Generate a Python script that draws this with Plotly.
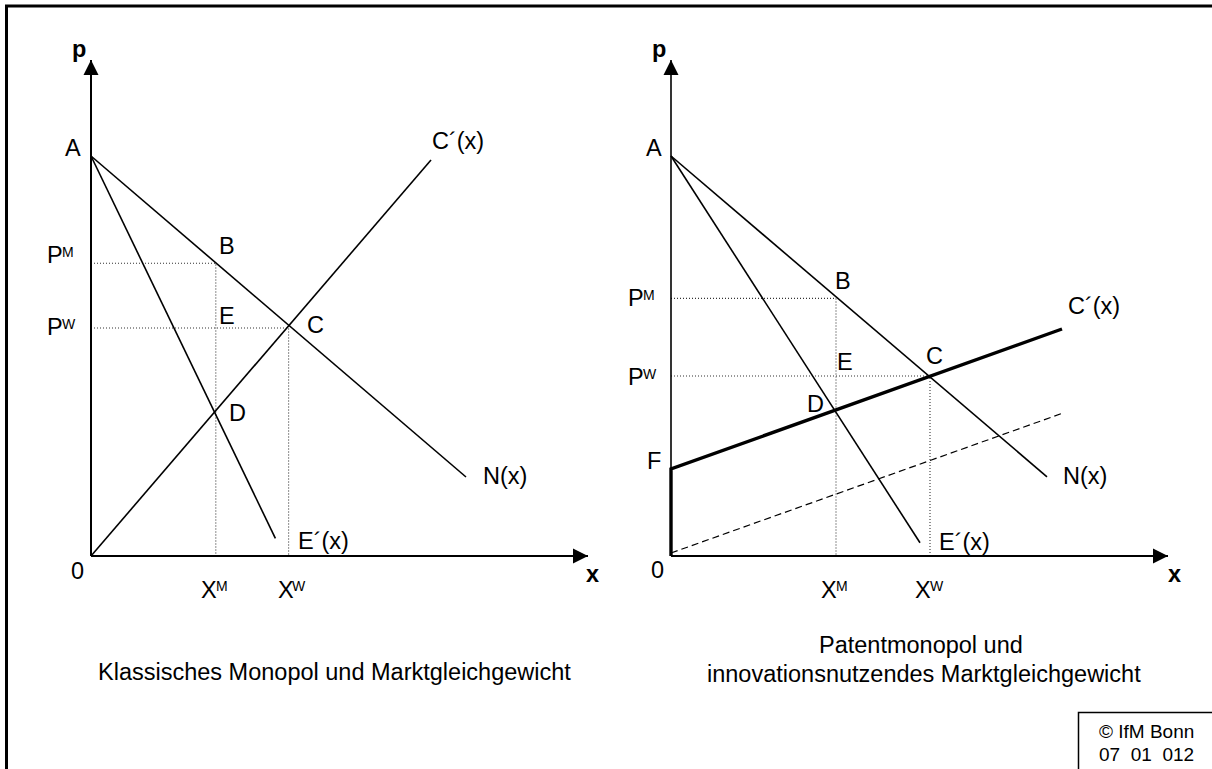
import plotly.graph_objects as go

# ---- values (price p vs quantity x, arbitrary units) ----
# left panel: classical monopoly vs. market equilibrium
left_demand_x = [0, 93.75]
left_demand_p = [100, 19.75]
left_mr_x = [0, 46.1]
left_mr_p = [100, 4.4]
left_mc_x = [0, 85]
left_mc_p = [0, 99]
left_monopoly = (31.2, 73.2)   # (X^M, P^M) -> point B
left_welfare = (49.4, 57.0)    # (X^W, P^W) -> point C

# right panel: patent monopoly, fixed cost F shifts the cost curve up
right_demand_x = [0, 94]
right_demand_p = [100, 19.8]
right_mr_x = [0, 62.25]
right_mr_p = [100, 3.3]
right_mc_x = [0, 0, 97.75]
right_mc_p = [0, 21.75, 56.75]
right_base_x = [0, 97.9]
right_base_p = [0.75, 35.7]
right_monopoly = (41.25, 64.4)
right_welfare = (64.75, 45.0)

axis_tip_x = 124.25
axis_tip_p = 124.0

# ---- page geometry (pixels) ----
W, H = 1212, 769
UNIT = 4.0                      # pixels per unit
LEFT_ORIGIN = (91, 556)
RIGHT_ORIGIN = (671, 556)

FONT = "Liberation Sans, Arial, sans-serif"
FS = 23.5
SUP = 14
BLACK = "#000000"

fig = go.Figure()


def xrange_for(origin_px):
    return [-origin_px / UNIT, (W - origin_px) / UNIT]


def line(xs, ys, xa, width=1.6, dash=None, color=BLACK):
    fig.add_trace(go.Scatter(
        x=xs, y=ys, xaxis=xa, yaxis="y", mode="lines",
        line=dict(color=color, width=width, dash=dash),
        hoverinfo="skip", showlegend=False))


def label(text, x, y, xa, size=FS, bold=False, xanchor="center"):
    fig.add_annotation(
        x=x, y=y, xref=xa, yref="y", text=text, showarrow=False,
        xanchor=xanchor, yanchor="middle",
        font=dict(family=FONT, size=size, color=BLACK,
                  weight="bold" if bold else "normal"))


def sup_label(base, s, xb, yb, xs, ys, xa):
    label(base, xb, yb, xa)
    label(s, xs - 0.4, ys, xa, size=SUP)


def axes(xa, y_width=2.0):
    # quantity axis and price axis with filled arrow heads
    line([0, axis_tip_x], [0, 0], xa, width=2.2)
    line([0, 0], [0, axis_tip_p], xa, width=y_width)
    fig.add_trace(go.Scatter(
        x=[axis_tip_x, 0], y=[0, axis_tip_p], xaxis=xa, yaxis="y",
        mode="markers",
        marker=dict(symbol=["arrow-right", "arrow-up"], size=15,
                    color=BLACK, line=dict(width=0)),
        hoverinfo="skip", showlegend=False))


def guides(pt, xa):
    gx, gp = pt
    line([0, gx, gx], [gp, gp, 0], xa, width=1.1, dash="1px,2px", color="#333333")


# ---------------- left panel ----------------
guides(left_monopoly, "x")
guides(left_welfare, "x")
axes("x")
line(left_demand_x, left_demand_p, "x")
line(left_mr_x, left_mr_p, "x")
line(left_mc_x, left_mc_p, "x")

label("p", -3.0, 126.7, "x", bold=True)
label("A", -4.4, 102.0, "x")
sup_label("P", "M", -9.0, 75.25, -5.25, 76.1, "x")
sup_label("P", "W", -9.0, 57.25, -5.1, 58.1, "x")
label("B", 33.9, 77.5, "x")
label("E", 34.1, 60.0, "x")
label("C", 56.0, 57.8, "x")
label("D", 36.5, 35.8, "x")
label("C´(x)", 91.8, 103.8, "x")
label("N(x)", 103.4, 20.0, "x")
label("E´(x)", 58.0, 3.8, "x")
label("0", -3.4, -3.8, "x")
sup_label("X", "M", 29.5, -8.6, 33.1, -7.5, "x")
sup_label("X", "W", 48.75, -8.6, 52.5, -7.5, "x")
label("x", 125.4, -4.5, "x", bold=True)
label("Klassisches Monopol und Marktgleichgewicht", 60.8, -29.1, "x")

# ---------------- right panel ----------------
guides(right_monopoly, "x2")
guides(right_welfare, "x2")
axes("x2", y_width=1.6)
line(right_base_x, right_base_p, "x2", width=1.2, dash="7px,4px")
line(right_demand_x, right_demand_p, "x2")
line(right_mr_x, right_mr_p, "x2")
line(right_mc_x, right_mc_p, "x2", width=3.4)

label("p", -2.9, 126.7, "x2", bold=True)
label("A", -4.25, 102.0, "x2")
sup_label("P", "M", -8.75, 64.4, -5.0, 65.25, "x2")
sup_label("P", "W", -8.75, 44.75, -4.85, 45.6, "x2")
label("B", 43.0, 68.75, "x2")
label("C´(x)", 105.75, 62.4, "x2")
label("E", 43.5, 48.6, "x2")
label("C", 65.9, 50.1, "x2")
label("D", 36.0, 38.1, "x2")
label("F", -4.25, 23.75, "x2")
label("N(x)", 103.5, 20.1, "x2")
label("E´(x)", 73.4, 3.6, "x2")
label("0", -3.4, -3.5, "x2")
sup_label("X", "M", 39.5, -8.6, 43.1, -7.5, "x2")
sup_label("X", "W", 63.1, -8.6, 66.9, -7.5, "x2")
label("x", 125.75, -4.5, "x2", bold=True)
label("Patentmonopol und", 62.4, -22.25, "x2")
label("innovationsnutzendes Marktgleichgewicht", 63.25, -29.5, "x2")

# ---------------- frame and source box ----------------
def px(xp):
    return xp / W


def py(yp):
    return 1 - yp / H


fig.add_shape(type="line", xref="paper", yref="paper",
              x0=px(6.5), x1=px(6.5), y0=py(6), y1=py(H + 5),
              line=dict(color=BLACK, width=3))
fig.add_shape(type="line", xref="paper", yref="paper",
              x0=px(5), x1=px(W + 5), y0=py(6), y1=py(6),
              line=dict(color=BLACK, width=3))
fig.add_shape(type="rect", xref="paper", yref="paper",
              x0=px(1078.5), x1=px(W + 10), y0=py(H + 10), y1=py(712.5),
              line=dict(color=BLACK, width=1.5))
for txt, yy in [("© IfM Bonn", 731.5), ("07  01  012", 754)]:
    fig.add_annotation(x=px(1096.5), y=py(yy), xref="paper", yref="paper",
                       text=txt, showarrow=False, xanchor="left", yanchor="middle",
                       font=dict(family=FONT, size=19, color=BLACK))

hidden = dict(visible=False, showgrid=False, zeroline=False, fixedrange=True)
fig.update_layout(
    width=W, height=H, autosize=False,
    margin=dict(l=0, r=0, t=0, b=0, pad=0),
    paper_bgcolor="white", plot_bgcolor="rgba(0,0,0,0)",
    showlegend=False,
    xaxis=dict(range=xrange_for(LEFT_ORIGIN[0]), domain=[0, 1], **hidden),
    xaxis2=dict(range=xrange_for(RIGHT_ORIGIN[0]), domain=[0, 1],
                overlaying="x", anchor="y", **hidden),
    yaxis=dict(range=[-(H - LEFT_ORIGIN[1]) / UNIT, LEFT_ORIGIN[1] / UNIT],
               domain=[0, 1], **hidden),
)

fig.write_html("out.html")
